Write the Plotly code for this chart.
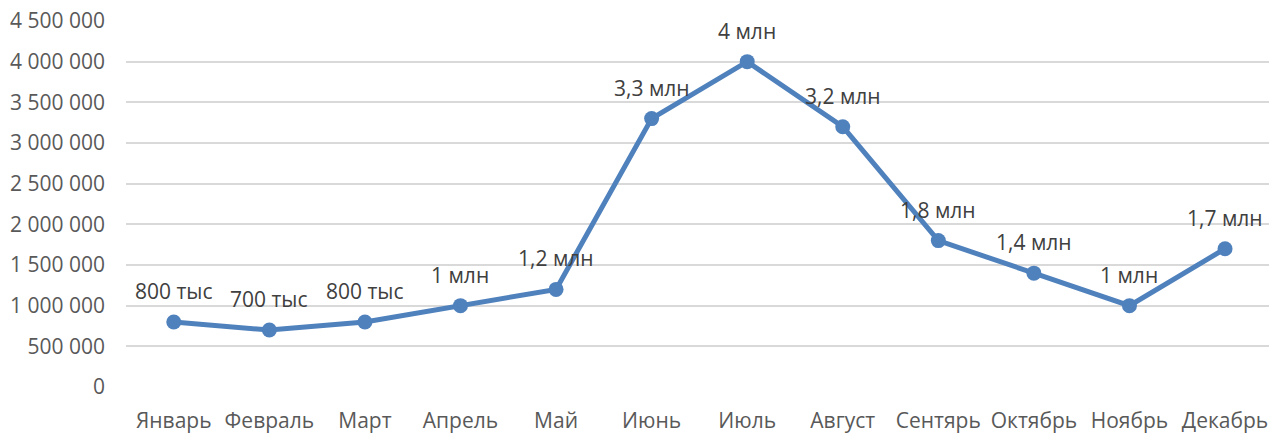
import plotly.graph_objects as go

months = ["Январь", "Февраль", "Март", "Апрель", "Май", "Июнь", "Июль",
          "Август", "Сентярь", "Октябрь", "Ноябрь", "Декабрь"]
values = [800000, 700000, 800000, 1000000, 1200000, 3300000, 4000000,
          3200000, 1800000, 1400000, 1000000, 1700000]
labels = ["800 тыс", "700 тыс", "800 тыс", "1 млн", "1,2 млн", "3,3 млн", "4 млн",
          "3,2 млн", "1,8 млн", "1,4 млн", "1 млн", "1,7 млн"]
y_ticks = [0, 500000, 1000000, 1500000, 2000000, 2500000, 3000000, 3500000, 4000000, 4500000]

LINE = "#4f81bd"
TEXT = "#595959"
FONT = "Open Sans"
FS = 21

fig = go.Figure()
fig.add_trace(go.Scatter(
    x=list(range(len(months))), y=values, mode="lines+markers",
    line=dict(color=LINE, width=5),
    marker=dict(color=LINE, size=15),
    hoverinfo="skip", showlegend=False,
))

for i, (v, t) in enumerate(zip(values, labels)):
    fig.add_annotation(x=i, y=v, text=t, showarrow=False, yshift=31,
                       font=dict(family=FONT, size=FS, color="#404040"))

fig.update_layout(
    width=1269, height=434,
    margin=dict(l=126, r=0, t=21, b=42),
    paper_bgcolor="white", plot_bgcolor="white",
    separators=", ",
    font=dict(family=FONT, size=FS, color=TEXT),
)
fig.update_xaxes(
    range=[-0.5, 11.46], tickmode="array",
    tickvals=list(range(len(months))), ticktext=months,
    showgrid=False, zeroline=False, showline=False, ticks="",
    ticklabelstandoff=19,
    tickfont=dict(family=FONT, size=FS, color=TEXT),
)
fig.update_yaxes(
    range=[0, 4500000], tickmode="array", tickvals=y_ticks,
    tickformat=",d", showgrid=True, gridcolor="#d9d9d9", gridwidth=1.5,
    zeroline=False, showline=False, ticks="", ticklabelstandoff=20,
    tickfont=dict(family=FONT, size=FS, color=TEXT),
)

fig.write_html(
    "out.html",
    config={"displayModeBar": False},
    post_script=(
        "var s=document.createElement('style');"
        "s.textContent='html,body{margin:0;padding:0;height:434px;overflow:hidden;}"
        "body>div{line-height:0;height:434px;overflow:hidden;}';"
        "document.head.appendChild(s);"
    ),
)
